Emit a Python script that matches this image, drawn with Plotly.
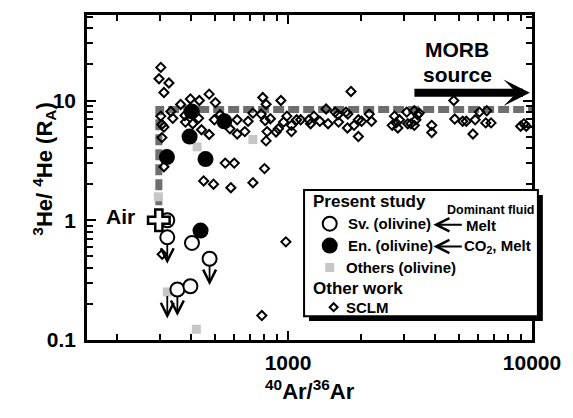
import numpy as np
import plotly.graph_objects as go

FONT = "Liberation Sans, Arial, Helvetica, sans-serif"

# ---------------- data ----------------
# SCLM (other work) 40Ar/36Ar and 3He/4He (RA)
sclm_x = [301, 296, 325, 310, 363, 398, 433, 475, 504, 331,
          337, 301, 304, 310, 304, 378, 380, 407, 430, 442,
          475, 499, 527, 578, 619, 619, 665, 686, 718, 553,
          602, 451, 495, 583, 718, 310, 305, 980, 781,
          788, 813, 935, 776, 806, 847, 821, 813, 893, 913,
          959, 989, 1033, 1033, 1085, 1127, 1219, 1237, 1277, 1350,
          1432, 1459, 1561, 1601, 1611, 1729, 1758, 1812, 1752, 1864,
          1942, 2003, 1942, 2152, 2199, 2674, 2732, 801,
          2775, 2862, 2819, 3066, 3096, 3192, 3293, 3345, 3398, 3449,
          3293, 3882, 3882, 4779, 4824, 5199, 5379, 5850, 5727, 6090,
          6525, 6465, 6795, 8985, 9270, 9473]
sclm_y = [18.9, 15.2, 14.0, 11.65, 9.27, 10.3, 10.0, 11.3, 9.6, 8.1,
          7.1, 7.4, 6.3, 6.0, 4.9, 7.5, 6.6, 6.4, 7.1, 5.7,
          5.2, 6.9, 7.6, 5.8, 6.9, 5.25, 5.5, 6.7, 7.85, 3.0,
          3.0, 2.13, 2.0, 1.87, 2.06, 2.8, 0.52, 0.66, 0.16,
          10.6, 9.3, 10.0, 7.7, 6.8, 7.05, 5.5, 4.6, 5.46, 5.8,
          6.6, 7.4, 6.2, 5.5, 6.9, 6.9, 6.9, 6.4, 7.4, 6.7,
          8.5, 6.4, 8.0, 7.6, 6.6, 8.0, 7.7, 11.9, 5.9, 6.2,
          6.9, 6.7, 5.0, 7.7, 6.7, 6.2, 7.4, 2.7,
          6.5, 6.9, 5.9, 8.0, 6.4, 6.4, 8.2, 6.9, 7.6, 7.85,
          6.2, 6.2, 5.4, 10.0, 7.0, 6.7, 6.7, 6.9, 5.25, 8.0,
          8.2, 6.5, 6.5, 6.1, 6.4, 6.1]

# Present study: Sv. (olivine)
sv_x = [320, 320, 404, 477, 352, 398]
sv_y = [1.0, 0.72, 0.647, 0.477, 0.264, 0.281]
sv_upper = [False, True, False, True, True, False]

# Present study: En. (olivine)
en_x = [403, 395, 319, 459, 548, 438]
en_y = [8.1, 5.0, 3.37, 3.24, 6.7, 0.82]

# Present study: Others (olivine)
oth_x = [320, 421, 424, 718, 294]
oth_y = [0.252, 0.123, 4.1, 4.72, 1.57]
oth_upper = [True, False, False, False, False]

# Air and MORB source
air_x, air_y = 295.5, 1.0
morb_ra = 8.4
morb_x_end = 10000
morb_arrow_x = [3250, 9800]
morb_arrow_y = 11.6

x_major = [1000, 10000]
x_major_text = ["1000", "10000"]
x_minor = [200, 300, 400, 500, 600, 700, 800, 900,
           2000, 3000, 4000, 5000, 6000, 7000, 8000, 9000]
y_major = [0.1, 1, 10]
y_major_text = ["0.1", "1", "10"]
y_minor = [0.2, 0.3, 0.4, 0.5, 0.6, 0.7, 0.8, 0.9,
           2, 3, 4, 5, 6, 7, 8, 9, 20, 30, 40, 50]

# ---------------- figure ----------------
W, H = 573, 418
ML, MR, MT, MB = 87, 35, 13, 78
PW, PH = W - ML - MR, H - MT - MB


def fx(px):
    return (px - ML) / PW


def fy(py):
    return (H - MB - py) / PH


fig = go.Figure()

# air -> MORB reference line
fig.add_trace(go.Scatter(
    x=[air_x, air_x, morb_x_end], y=[air_y, morb_ra, morb_ra],
    mode="lines", line=dict(color="#6e6e6e", width=7, dash="11px,4px"),
    hoverinfo="skip", showlegend=False))

fig.add_trace(go.Scatter(
    x=sclm_x, y=sclm_y, mode="markers", showlegend=False,
    marker=dict(symbol="diamond-open", size=7, color="black",
                line=dict(width=2, color="black"))))

fig.add_trace(go.Scatter(
    x=oth_x, y=oth_y, mode="markers", showlegend=False,
    marker=dict(symbol="square", size=9, color="#c6c6c6",
                line=dict(width=0))))

fig.add_trace(go.Scatter(
    x=sv_x, y=sv_y, mode="markers", showlegend=False,
    marker=dict(symbol="circle", size=14, color="white",
                line=dict(width=2, color="black"))))

fig.add_trace(go.Scatter(
    x=en_x, y=en_y, mode="markers", showlegend=False,
    marker=dict(symbol="circle", size=16, color="black",
                line=dict(width=0))))

fig.add_trace(go.Scatter(
    x=[air_x], y=[air_y], mode="markers", showlegend=False,
    marker=dict(symbol="cross", size=18, color="white",
                line=dict(width=2.5, color="black"))))

annotations = []

# upper-limit arrows
for xs, ys, fl, so in [(sv_x, sv_y, sv_upper, 7), (oth_x, oth_y, oth_upper, 4)]:
    for xv, yv, f in zip(xs, ys, fl):
        if f:
            annotations.append(dict(
                x=np.log10(xv), y=np.log10(yv), xref="x", yref="y",
                ax=0, ay=28, text="", showarrow=True,
                arrowside="end+start", arrowhead=0, standoff=so,
                startarrowhead=5, startarrowsize=1.4,
                arrowwidth=1.8, arrowcolor="black"))

# MORB arrow
annotations.append(dict(
    x=np.log10(morb_arrow_x[1]), y=np.log10(morb_arrow_y), xref="x", yref="y",
    ax=np.log10(morb_arrow_x[0]), ay=np.log10(morb_arrow_y),
    axref="x", ayref="y", text="", showarrow=True,
    arrowhead=3, arrowsize=0.55, arrowwidth=8, arrowcolor="black"))

bold = dict(family=FONT, color="black", weight="bold")

annotations.append(dict(x=fx(462), y=fy(48), xref="paper", yref="paper",
                        text="MORB", showarrow=False,
                        font=dict(**bold, size=21), xanchor="center", yanchor="middle"))
annotations.append(dict(x=fx(462), y=fy(73), xref="paper", yref="paper",
                        text="source", showarrow=False,
                        font=dict(**bold, size=21), xanchor="center", yanchor="middle"))

# Air label
annotations.append(dict(x=np.log10(air_x), y=np.log10(air_y), xref="x", yref="y",
                        text="Air", showarrow=False, xanchor="right",
                        yanchor="middle", xshift=-22, yshift=4,
                        font=dict(**bold, size=21)))

# axis titles
annotations.append(dict(x=fx(313), y=fy(390), xref="paper", yref="paper",
                        text="<sup>40</sup>Ar/<sup>36</sup>Ar", showarrow=False,
                        xanchor="center", yanchor="middle",
                        font=dict(**bold, size=22)))
annotations.append(dict(x=fx(43), y=fy(168), xref="paper", yref="paper",
                        text="<sup>3</sup>He/ <sup>4</sup>He (R<sub>A</sub>)",
                        showarrow=False, textangle=-90,
                        xanchor="center", yanchor="middle",
                        font=dict(**bold, size=22)))


# legend texts
def txt(px, py, s, size, anchor="left"):
    annotations.append(dict(x=fx(px), y=fy(py), xref="paper", yref="paper",
                            text=s, showarrow=False, xanchor=anchor,
                            yanchor="middle", font=dict(**bold, size=size)))


txt(314, 201, "Present study", 17)
txt(496, 209, "Dominant fluid", 12.5, "center")
txt(349, 223, "Sv. (olivine)", 15)
txt(349, 245, "En. (olivine)", 15)
txt(347, 267, "Others (olivine)", 15)
txt(314, 288, "Other work", 17)
txt(347, 307, "SCLM", 15)
txt(469, 225, "Melt", 15)
txt(467, 246, "CO<sub>2</sub>, Melt", 15)

for py in (224, 246):
    annotations.append(dict(x=fx(438), y=fy(py), xref="paper", yref="paper",
                            ax=30, ay=0, text="", showarrow=True,
                            arrowhead=5, arrowsize=1.3, arrowwidth=2,
                            arrowcolor="black"))

shapes = [
    # legend shadow and box
    dict(type="rect", xref="paper", yref="paper", layer="above",
         x0=fx(312), x1=fx(549), y0=fy(321), y1=fy(194),
         fillcolor="black", line=dict(width=0)),
    dict(type="rect", xref="paper", yref="paper", layer="above",
         x0=fx(307), x1=fx(544), y0=fy(316), y1=fy(189),
         fillcolor="white", line=dict(width=2, color="black")),
    # legend markers
    dict(type="circle", xref="paper", yref="paper", layer="above",
         xsizemode="pixel", ysizemode="pixel", xanchor=fx(333), yanchor=fy(223),
         x0=-7, x1=7, y0=-7, y1=7, fillcolor="white",
         line=dict(width=2, color="black")),
    dict(type="circle", xref="paper", yref="paper", layer="above",
         xsizemode="pixel", ysizemode="pixel", xanchor=fx(333), yanchor=fy(245),
         x0=-8, x1=8, y0=-8, y1=8, fillcolor="black",
         line=dict(width=0)),
    dict(type="rect", xref="paper", yref="paper", layer="above",
         xsizemode="pixel", ysizemode="pixel", xanchor=fx(333), yanchor=fy(267),
         x0=-4.5, x1=4.5, y0=-4.5, y1=4.5, fillcolor="#c6c6c6",
         line=dict(width=0)),
    dict(type="path", xref="paper", yref="paper", layer="above",
         xsizemode="pixel", ysizemode="pixel", xanchor=fx(337), yanchor=fy(307),
         path="M -4 0 L 0 4 L 4 0 L 0 -4 Z", fillcolor="white",
         line=dict(width=2, color="black")),
]

axis_common = dict(
    type="log", showgrid=False, zeroline=False,
    showline=True, linewidth=2.5, linecolor="black", mirror="ticks",
    ticks="inside", ticklen=9, tickwidth=2, tickcolor="black",
    tickmode="array",
    tickfont=dict(family=FONT, size=21, color="black", weight="bold"),
)

fig.update_layout(
    width=W, height=H,
    margin=dict(l=ML, r=MR, t=MT, b=MB),
    paper_bgcolor="white", plot_bgcolor="white",
    showlegend=False,
    xaxis=dict(**axis_common, range=[np.log10(150), 4],
               tickvals=x_major, ticktext=x_major_text,
               ticklabelstandoff=2,
               minor=dict(tickmode="array", tickvals=x_minor, ticks="inside",
                          ticklen=6, tickwidth=2, tickcolor="black",
                          showgrid=False)),
    yaxis=dict(**axis_common, range=[-1, 1.714],
               tickvals=y_major, ticktext=y_major_text,
               ticklabelstandoff=4,
               minor=dict(tickmode="array", tickvals=y_minor, ticks="inside",
                          ticklen=6, tickwidth=2, tickcolor="black",
                          showgrid=False)),
    annotations=annotations,
    shapes=shapes,
)

fig.write_html("out.html")
